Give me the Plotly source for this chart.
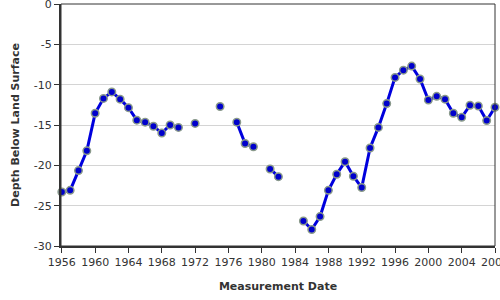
import plotly.graph_objects as go

years = list(range(1956, 2009))
depth_values = {
    1956: -23.3, 1957: -23.1, 1958: -20.65, 1959: -18.2, 1960: -13.55,
    1961: -11.7, 1962: -10.9, 1963: -11.8, 1964: -12.85, 1965: -14.4,
    1966: -14.65, 1967: -15.15, 1968: -16.0, 1969: -15.0, 1970: -15.3,
    1972: -14.8, 1975: -12.7, 1977: -14.65, 1978: -17.3, 1979: -17.7,
    1981: -20.45, 1982: -21.4, 1985: -26.9, 1986: -27.95, 1987: -26.35,
    1988: -23.1, 1989: -21.1, 1990: -19.55, 1991: -21.35, 1992: -22.75,
    1993: -17.85, 1994: -15.3, 1995: -12.35, 1996: -9.1, 1997: -8.2,
    1998: -7.7, 1999: -9.3, 2000: -11.9, 2001: -11.45, 2002: -11.8,
    2003: -13.55, 2004: -14.05, 2005: -12.55, 2006: -12.65, 2007: -14.45,
    2008: -12.8,
}
depth = [depth_values.get(y) for y in years]
x_ticks = list(range(1956, 2009, 4))
y_ticks = [0, -5, -10, -15, -20, -25, -30]

fig = go.Figure()
fig.add_trace(go.Scatter(
    x=years, y=depth, mode="lines+markers", connectgaps=False,
    line=dict(color="#0000dd", width=3),
    marker=dict(size=7.5, color="#0000cc", line=dict(color="#8a9a8a", width=1.5)),
    cliponaxis=False, showlegend=False,
))

font = "DejaVu Sans, Verdana, sans-serif"
fig.update_layout(
    width=500, height=300,
    margin=dict(l=61, r=5, t=4, b=54),
    paper_bgcolor="white", plot_bgcolor="white",
    font=dict(family=font, size=11, color="#333"),
    shapes=[dict(type="rect", xref="paper", yref="paper", x0=0, x1=1, y0=0, y1=1,
                 line=dict(color="#333", width=1), layer="above")],
)
fig.update_xaxes(
    range=[1955.9, 2008], tickvals=x_ticks, ticktext=[str(t) for t in x_ticks],
    showgrid=False, zeroline=False, ticklabeloverflow="allow", automargin=False,
    showline=True, linecolor="#333", linewidth=2,
    ticks="outside", ticklen=5, tickcolor="#333", tickwidth=1,
    tickfont=dict(family=font, size=11, color="#333"),
    title=dict(text="<b>Measurement Date</b>", font=dict(family=font, size=11, color="#333"), standoff=14),
)
fig.update_yaxes(
    range=[-30, 0], tickvals=y_ticks, ticktext=[str(t) for t in y_ticks],
    showgrid=True, gridcolor="#d4d4d4", gridwidth=1, zeroline=False,
    ticklabeloverflow="allow", automargin=False,
    showline=True, linecolor="#333", linewidth=2,
    ticks="outside", ticklen=5, tickcolor="#333", tickwidth=1,
    tickfont=dict(family=font, size=11, color="#333"),
    title=dict(text="<b>Depth Below Land Surface</b>", font=dict(family=font, size=11, color="#333"), standoff=12),
)

fig.write_html("out.html")
